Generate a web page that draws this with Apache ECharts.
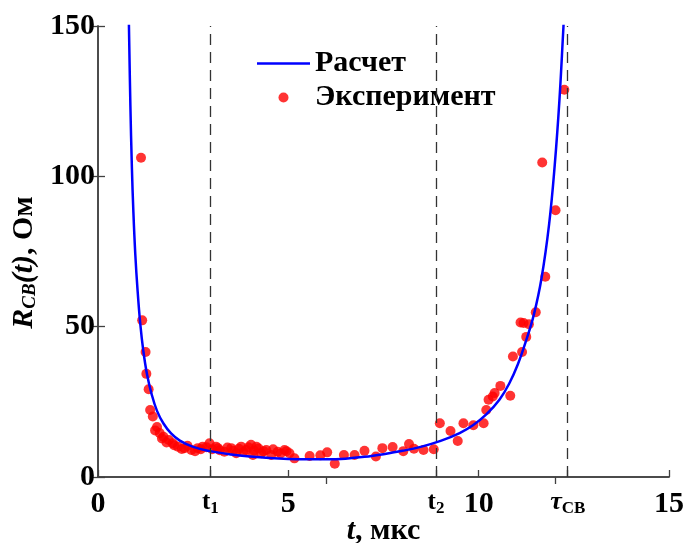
<!DOCTYPE html>
<html>
<head>
<meta charset="utf-8">
<script src="https://cdn.jsdelivr.net/npm/echarts@6.0.0/dist/echarts.min.js"></script>
<style>
html, body { margin: 0; padding: 0; background: #fff; }
#chart { width: 688px; height: 543px; }
</style>
</head>
<body>
<div id="chart"></div>
<script>
// расчетная кривая R(t), Ом
const calcData = [
  [0.81, 152], [0.85, 124], [0.89, 103], [0.93, 88], [0.98, 74], [1.04, 62],
  [1.11, 51], [1.19, 42], [1.29, 34], [1.41, 27.5], [1.55, 22], [1.72, 17.8],
  [1.92, 14.5], [2.15, 12.1], [2.5, 10.0], [2.95, 8.6], [3.5, 7.5], [4.0, 6.8],
  [4.5, 6.3], [5.0, 6.0], [5.5, 5.9], [6.0, 5.9], [6.5, 6.1], [7.0, 6.7],
  [7.5, 7.6], [8.0, 8.7], [8.5, 10.1], [9.0, 12.0], [9.5, 14.6], [9.85, 17.2],
  [10.2, 20.8], [10.55, 25.8], [10.8, 31], [11.03, 37.5], [11.25, 45.5],
  [11.45, 54], [11.65, 66], [11.85, 84], [12.0, 104], [12.12, 125], [12.22, 148], [12.24, 153]
]
// эксперимент
const expData = [
  [1.13, 106.2], [1.16, 52.1], [1.25, 41.6], [1.27, 34.3], [1.33, 29.2], [1.37, 22.3],
  [1.44, 20.1], [1.5, 15.5], [1.55, 16.6], [1.62, 14.6], [1.68, 12.8], [1.72, 13.4],
  [1.8, 11.5], [1.86, 12.3], [1.96, 11.2], [2.0, 10.6], [2.1, 10.1], [2.2, 9.3],
  [2.27, 9.6], [2.35, 10.4], [2.45, 9.0], [2.55, 8.6], [2.62, 9.6], [2.7, 9.2],
  [2.75, 10.1], [2.85, 9.9], [2.93, 11.2], [3.0, 9.2], [3.1, 10.1], [3.15, 9.6],
  [3.2, 8.9], [3.32, 8.4], [3.4, 9.8], [3.5, 9.6], [3.55, 8.7], [3.63, 7.9],
  [3.7, 9.4], [3.76, 10.1], [3.82, 8.3], [3.89, 9.0], [3.95, 9.9], [4.02, 10.7],
  [4.07, 7.3], [4.1, 8.8], [4.16, 10.1], [4.22, 9.5], [4.29, 7.9], [4.35, 8.6],
  [4.42, 9.0], [4.55, 7.3], [4.6, 9.2], [4.72, 8.4], [4.8, 7.8], [4.9, 9.0],
  [4.95, 8.6], [5.03, 7.9], [5.16, 6.2], [5.56, 7.0], [5.84, 7.2], [6.02, 8.2],
  [6.22, 4.4], [6.46, 7.3], [6.74, 7.3], [7.0, 8.7], [7.3, 6.8], [7.47, 9.6],
  [7.74, 10.0], [8.02, 8.6], [8.17, 11.0], [8.3, 9.4], [8.55, 9.0], [8.82, 9.2],
  [8.98, 17.9], [9.26, 15.3], [9.45, 12.0], [9.6, 17.9], [9.86, 17.2], [10.13, 17.9],
  [10.2, 22.3], [10.26, 25.7], [10.37, 26.8], [10.42, 27.9], [10.57, 30.3], [10.83, 27.0],
  [10.9, 40.1], [11.14, 41.6], [11.25, 46.6], [11.1, 51.4], [11.18, 51.2], [11.32, 50.8],
  [11.5, 54.8], [11.75, 66.6], [12.02, 88.7], [11.67, 104.6], [12.25, 128.8]
]
const markTimes = [2.95, 8.88, 12.34]
const xTickValues = [0, 2.95, 5, 8.88, 10, 12.34, 15]
const xTickLabels = ['0', '{t|t}{s|1}', '5', '{t|t}{s|2}', '10', '{tau|τ}{s|CB}', '15']
const topTicks = [6, 12]

const FONT = 'Liberation Serif'
const axisColor = '#404040'

const chart = echarts.init(document.getElementById('chart'))
const option = {
  animation: false,
  grid: { left: 98, right: 19, top: 26, bottom: 66, outerBoundsMode: 'none' },
  legend: {
    orient: 'vertical',
    left: 252,
    top: 43,
    itemWidth: 53,
    itemHeight: 10,
    itemGap: 3,
    data: [
      { name: 'Расчет', icon: 'path://M0,0 L53,0 L53,2.6 L0,2.6 Z' },
      { name: 'Эксперимент' }
    ],
    textStyle: { fontFamily: FONT, fontWeight: 'bold', fontSize: 30, lineHeight: 31, color: '#000' }
  },
  xAxis: [
    {
      type: 'value',
      min: 0,
      max: 15,
      position: 'bottom',
      name: '{i|t}{n|, мкс}',
      nameLocation: 'middle',
      nameGap: 39,
      nameMoveOverlap: false,
      nameTextStyle: {
        rich: {
          i: { fontFamily: FONT, fontWeight: 'bold', fontStyle: 'italic', fontSize: 30, color: '#000' },
          n: { fontFamily: FONT, fontWeight: 'bold', fontSize: 30, color: '#000' }
        }
      },
      axisLine: { show: true, lineStyle: { color: axisColor, width: 1.5 } },
      axisTick: { show: true, inside: true, length: 7, customValues: xTickValues, lineStyle: { color: axisColor, width: 1.3 } },
      axisLabel: {
        customValues: xTickValues,
        margin: 12,
        fontFamily: FONT,
        fontWeight: 'bold',
        fontSize: 30,
        color: '#000',
        formatter: function (value) {
          const i = xTickValues.indexOf(value)
          return i >= 0 ? xTickLabels[i] : ''
        },
        rich: {
          t: { fontFamily: FONT, fontWeight: 'bold', fontSize: 25, color: '#000', lineHeight: 26, verticalAlign: 'bottom' },
          tau: { fontFamily: FONT, fontWeight: 'bold', fontStyle: 'italic', fontSize: 26, color: '#000', lineHeight: 26, verticalAlign: 'bottom' },
          s: { fontFamily: FONT, fontWeight: 'bold', fontSize: 17, color: '#000', lineHeight: 17, verticalAlign: 'bottom', padding: [0, 0, -2, 0] }
        }
      },
      splitLine: { show: false }
    },
    {
      type: 'value',
      min: 0,
      max: 15,
      position: 'top',
      axisLine: { show: true, lineStyle: { color: axisColor, width: 1.5 } },
      axisTick: { show: true, inside: true, length: 7, customValues: topTicks, lineStyle: { color: axisColor, width: 1.3 } },
      axisLabel: { show: false },
      splitLine: { show: false }
    }
  ],
  yAxis: [
    {
      type: 'value',
      min: 0,
      max: 150,
      interval: 50,
      position: 'left',
      name: '{ri|R}{sub|CB}{ri|(t)}{n|, Ом}',
      nameLocation: 'middle',
      nameGap: 58,
      nameRotate: 90,
      nameTextStyle: {
        padding: [0, 22, 0, 0],
        rich: {
          ri: { fontFamily: FONT, fontWeight: 'bold', fontStyle: 'italic', fontSize: 30, color: '#000' },
          sub: { fontFamily: FONT, fontWeight: 'bold', fontStyle: 'italic', fontSize: 19, color: '#000', verticalAlign: 'bottom' },
          n: { fontFamily: FONT, fontWeight: 'bold', fontSize: 30, color: '#000' }
        }
      },
      axisLine: { show: true, lineStyle: { color: axisColor, width: 1.5 } },
      axisTick: { show: true, inside: true, length: 7, lineStyle: { color: axisColor, width: 1.3 } },
      axisLabel: { margin: 3, fontFamily: FONT, fontWeight: 'bold', fontSize: 30, color: '#000' },
      splitLine: { show: false }
    },
    {
      type: 'value',
      min: 0,
      max: 150,
      interval: 50,
      position: 'right',
      axisLine: { show: true, lineStyle: { color: axisColor, width: 1.5 } },
      axisTick: { show: true, inside: true, length: 7, lineStyle: { color: axisColor, width: 1.3 } },
      axisLabel: { show: false },
      splitLine: { show: false }
    }
  ],
  series: [
    {
      name: 'Эксперимент',
      type: 'scatter',
      data: expData,
      symbol: 'circle',
      symbolSize: 10,
      itemStyle: { color: '#ff0000' },
      z: 2
    },
    {
      name: 'Расчет',
      type: 'line',
      data: calcData,
      showSymbol: false,
      symbol: 'none',
      smooth: 0.4,
      clip: true,
      lineStyle: { color: '#0000ff', width: 2.5 },
      itemStyle: { color: '#0000ff' },
      z: 3,
      markLine: {
        silent: true,
        symbol: ['none', 'none'],
        label: { show: false },
        lineStyle: { type: [11, 7], color: '#333', width: 1.3 },
        data: markTimes.map(v => ({ xAxis: v }))
      }
    }
  ]
}
chart.setOption(option)
</script>
</body>
</html>
